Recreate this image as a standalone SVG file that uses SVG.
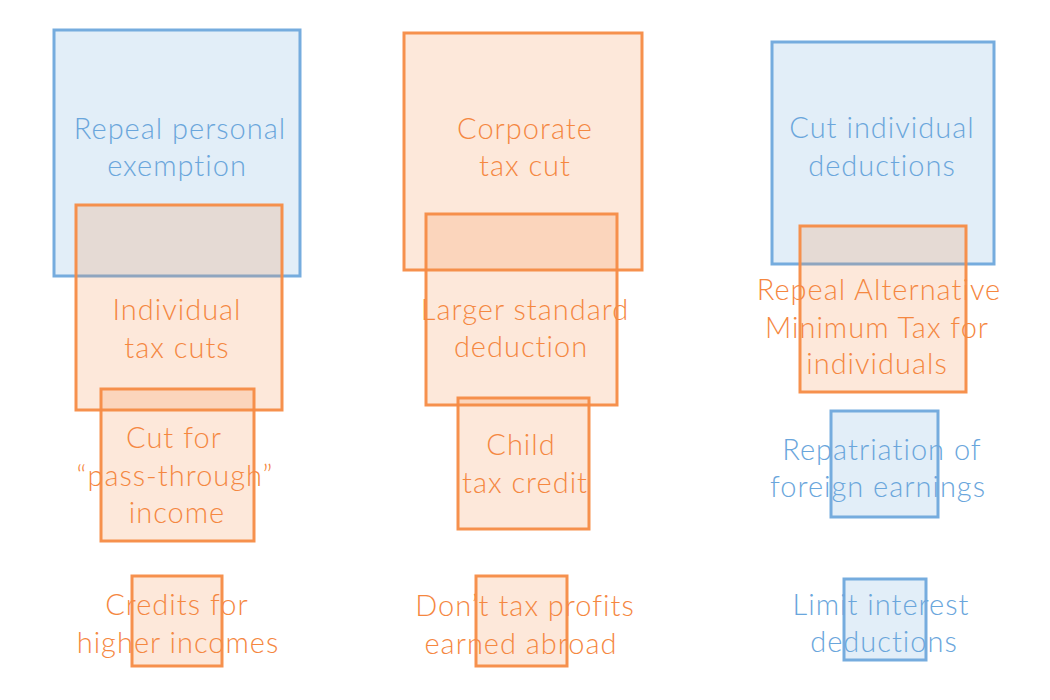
<svg xmlns="http://www.w3.org/2000/svg" width="1050" height="700" viewBox="0 0 1050 700">
<style>
text{font-family:Lato,"Open Sans","Liberation Sans",sans-serif;font-weight:300;font-size:29px;letter-spacing:1px;text-anchor:middle}
.b text{fill:#6aa6dc}
.o text{fill:#f5873f}
.b rect{fill:#6fa8dc;fill-opacity:0.2;stroke:#6fa8dc;stroke-width:3;stroke-opacity:0.95}
.o rect{fill:#f58b45;fill-opacity:0.2;stroke:#f58b45;stroke-width:3;stroke-opacity:0.95}
</style>
<rect width="1050" height="700" fill="#fff"/>
<g id="connectors"/>
<g id="repeal-personal-exemption" class="b">
<text x="180" y="139">Repeal personal</text>
<text x="177" y="176">exemption</text>
<rect x="54" y="30" width="246" height="246"/>
</g>
<g id="individual-tax-cuts" class="o">
<text x="177" y="320">Individual</text>
<text x="177" y="358">tax cuts</text>
<rect x="76" y="205" width="206" height="205"/>
</g>
<g id="pass-through" class="o">
<text x="174" y="448">Cut for</text>
<text x="175" y="486">“pass-through”</text>
<text x="177" y="523">income</text>
<rect x="101" y="389" width="153" height="152"/>
</g>
<g id="credits-higher-incomes" class="o">
<text x="177" y="615">Credits for</text>
<text x="178" y="653">higher incomes</text>
<rect x="132" y="576" width="90" height="90"/>
</g>
<g id="corporate-tax-cut" class="o">
<text x="525" y="139">Corporate</text>
<text x="525" y="176">tax cut</text>
<rect x="404" y="33" width="238" height="237"/>
</g>
<g id="larger-standard-deduction" class="o">
<text x="525" y="320">Larger standard</text>
<text x="521" y="357">deduction</text>
<rect x="426" y="214" width="191" height="191"/>
</g>
<g id="child-tax-credit" class="o">
<text x="521" y="455">Child</text>
<text x="525" y="493">tax credit</text>
<rect x="458" y="398" width="131" height="131"/>
</g>
<g id="dont-tax-profits-abroad" class="o">
<text x="525" y="616">Don’t tax profits</text>
<text x="521" y="654">earned abroad</text>
<rect x="476" y="576" width="91" height="90"/>
</g>
<g id="cut-individual-deductions" class="b">
<text x="882" y="138">Cut individual</text>
<text x="882" y="176">deductions</text>
<rect x="772" y="42" width="222" height="222"/>
</g>
<g id="repeal-amt" class="o">
<text x="879" y="300">Repeal Alternative</text>
<text x="877" y="338">Minimum Tax for</text>
<text x="877" y="374">individuals</text>
<rect x="800" y="226" width="166" height="166"/>
</g>
<g id="repatriation" class="b">
<text x="882" y="460">Repatriation of</text>
<text x="878" y="497">foreign earnings</text>
<rect x="831" y="411" width="107" height="106"/>
</g>
<g id="limit-interest-deductions" class="b">
<text x="881" y="615">Limit interest</text>
<text x="884" y="652">deductions</text>
<rect x="844" y="579" width="82" height="81"/>
</g>
</svg>
